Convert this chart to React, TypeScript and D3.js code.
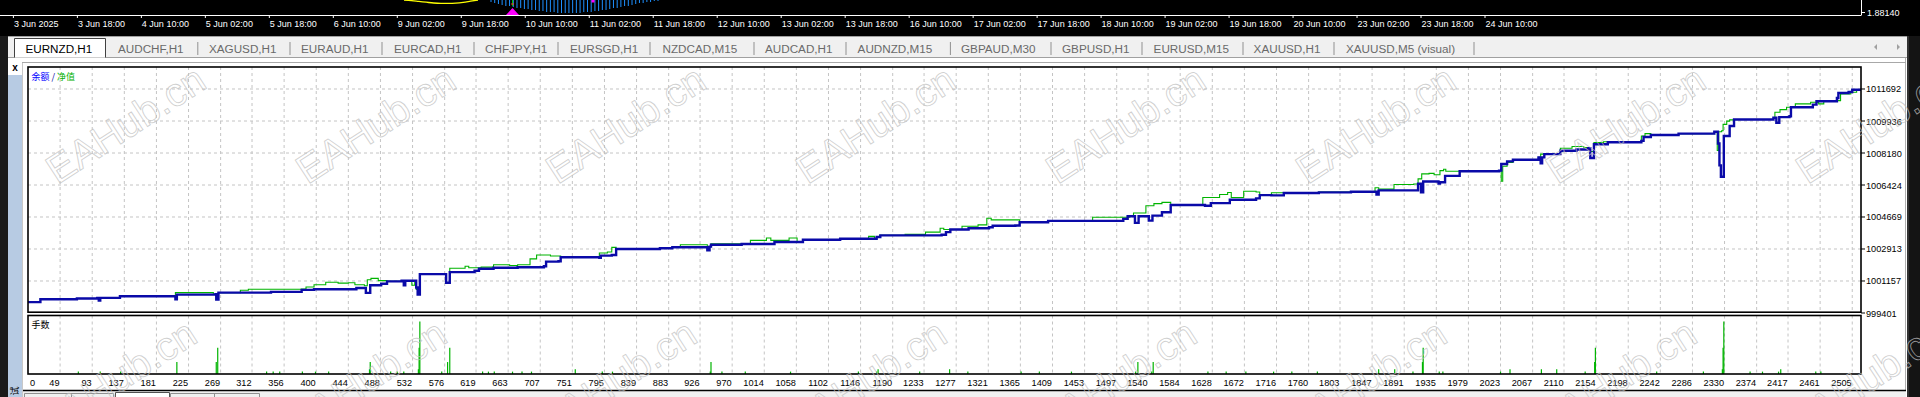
import React from 'react';
import * as d3 from 'd3';

const W = 1920;
const H = 397;

const dateLabels = [
  '3 Jun 2025', '3 Jun 18:00', '4 Jun 10:00', '5 Jun 02:00', '5 Jun 18:00', '6 Jun 10:00',
  '9 Jun 02:00', '9 Jun 18:00', '10 Jun 10:00', '11 Jun 02:00', '11 Jun 18:00', '12 Jun 10:00',
  '13 Jun 02:00', '13 Jun 18:00', '16 Jun 10:00', '17 Jun 02:00', '17 Jun 18:00', '18 Jun 10:00',
  '19 Jun 02:00', '19 Jun 18:00', '20 Jun 10:00', '23 Jun 02:00', '23 Jun 18:00', '24 Jun 10:00',
];

const tabLabels = [
  'EURNZD,H1', 'AUDCHF,H1', 'XAGUSD,H1', 'EURAUD,H1', 'EURCAD,H1', 'CHFJPY,H1', 'EURSGD,H1',
  'NZDCAD,M15', 'AUDCAD,H1', 'AUDNZD,M15', 'GBPAUD,M30', 'GBPUSD,H1', 'EURUSD,M15', 'XAUUSD,H1',
  'XAUUSD,M5 (visual)',
];

const yTickValues = [999401, 1001157, 1002913, 1004669, 1006424, 1008180, 1009936, 1011692];

const xTickLabels = [
  0, 49, 93, 137, 181, 225, 269, 312, 356, 400, 444, 488, 532, 576, 619, 663, 707, 751, 795, 839,
  883, 926, 970, 1014, 1058, 1102, 1146, 1190, 1233, 1277, 1321, 1365, 1409, 1453, 1497, 1540,
  1584, 1628, 1672, 1716, 1760, 1803, 1847, 1891, 1935, 1979, 2023, 2067, 2110, 2154, 2198, 2242,
  2286, 2330, 2374, 2417, 2461, 2505,
];

// [trade #, balance]
const balance: [number, number][] = [
  [5, 1000000], [22, 1000158], [72, 1000197], [100, 1000230], [102, 1000087], [104, 1000230],
  [131, 1000323], [207, 1000158], [209, 1000411], [262, 1000433], [263, 1000142], [266, 1000520],
  [338, 1000559], [380, 1000669], [397, 1000702], [455, 1000773], [468, 1000504], [474, 1000921],
  [489, 1001009], [497, 1001135], [517, 1001173], [520, 1000921], [522, 1001173], [537, 1000800],
  [539, 1000411], [542, 1001535], [578, 1001064], [583, 1001645], [617, 1001717], [623, 1001826],
  [643, 1001881], [676, 1001914], [712, 1001969], [715, 1002221], [732, 1002243], [735, 1002457],
  [788, 1002424], [790, 1002550], [805, 1002583], [811, 1002913], [871, 1002951], [888, 1003006],
  [936, 1002841], [939, 1003044], [941, 1003149], [983, 1003187], [1028, 1003297], [1067, 1003423],
  [1118, 1003478], [1168, 1003571], [1173, 1003659], [1257, 1003692], [1263, 1003840],
  [1269, 1003983], [1294, 1004055], [1322, 1004110], [1327, 1004186], [1358, 1004203],
  [1364, 1004384], [1403, 1004454], [1506, 1004564], [1512, 1004707], [1522, 1004345],
  [1527, 1004707], [1541, 1004471], [1546, 1004745], [1559, 1004926], [1571, 1005327],
  [1618, 1005289], [1626, 1005431], [1652, 1005612], [1688, 1005689], [1693, 1005870],
  [1709, 1005853], [1726, 1005985], [1774, 1006018], [1818, 1006056], [1853, 1005900],
  [1856, 1006128], [1910, 1006490], [1914, 1006018], [1917, 1006616], [1938, 1006500],
  [1940, 1006578], [1947, 1006924], [1967, 1007176], [2021, 1007214], [2024, 1007577],
  [2032, 1007720], [2040, 1007813], [2075, 1007939], [2078, 1007620], [2080, 1007939],
  [2083, 1008120], [2105, 1008301], [2127, 1008372], [2143, 1008444], [2146, 1007906],
  [2151, 1008663], [2170, 1008773], [2216, 1008844], [2219, 1009058], [2229, 1009168],
  [2267, 1009245], [2316, 1009349], [2321, 1008700], [2323, 1007500], [2325, 1006880],
  [2329, 1009113], [2337, 1009662], [2343, 1010018], [2397, 1010111], [2401, 1009837],
  [2405, 1010150], [2419, 1010200], [2421, 1010694], [2451, 1010836], [2456, 1011017],
  [2484, 1011198], [2486, 1011473], [2500, 1011528], [2505, 1011649], [2517, 1011692],
];

// [trade #, equity]
const equity: [number, number][] = [
  [5, 1000000], [22, 1000158], [72, 1000197], [100, 1000230], [102, 1000087], [104, 1000230],
  [131, 1000323], [207, 1000520], [257, 1000520], [259, 1000433], [262, 1000433], [263, 1000142],
  [266, 1000520], [296, 1000647], [307, 1000702], [338, 1000702], [380, 1000720], [386, 1000830],
  [397, 1000953], [413, 1001090], [430, 1001040], [444, 1001060], [453, 1000953], [466, 1000900],
  [470, 1001227], [475, 1001300], [485, 1001180], [497, 1001135], [517, 1001173], [520, 1000921],
  [522, 1001173], [531, 1000921], [535, 1001100], [537, 1000700], [539, 1000500], [542, 1001535],
  [578, 1001064], [583, 1001860], [604, 1001969], [609, 1001880], [626, 1001920], [643, 1002046],
  [665, 1002010], [676, 1002046], [693, 1002370], [702, 1002583], [721, 1002530], [735, 1002457],
  [788, 1002693], [799, 1002750], [805, 1003000], [811, 1002913], [871, 1002951], [888, 1003006],
  [899, 1003149], [933, 1003149], [936, 1002841], [939, 1003044], [941, 1003204], [983, 1003204],
  [995, 1003385], [1017, 1003516], [1023, 1003385], [1048, 1003516], [1059, 1003297],
  [1067, 1003423], [1118, 1003478], [1157, 1003604], [1165, 1003478], [1168, 1003571],
  [1173, 1003659], [1207, 1003714], [1235, 1003840], [1255, 1004055], [1260, 1003983],
  [1285, 1004164], [1307, 1004235], [1319, 1004597], [1325, 1004510], [1358, 1004510],
  [1364, 1004384], [1403, 1004454], [1464, 1004652], [1509, 1004652], [1515, 1004707],
  [1520, 1004888], [1537, 1005289], [1548, 1005400], [1559, 1005470], [1571, 1005327],
  [1615, 1005738], [1638, 1005903], [1649, 1006013], [1654, 1005738], [1671, 1006084],
  [1688, 1006040], [1693, 1005870], [1709, 1006000], [1774, 1006040], [1818, 1006070],
  [1851, 1006271], [1856, 1006200], [1877, 1006452], [1904, 1006480], [1910, 1006759],
  [1915, 1007034], [1925, 1007060], [1932, 1006990], [1940, 1007214], [1945, 1007290],
  [1948, 1007176], [2021, 1007214], [2024, 1006633], [2026, 1007450], [2032, 1007665],
  [2040, 1007813], [2075, 1007939], [2078, 1008120], [2083, 1008150], [2105, 1008444],
  [2121, 1008537], [2137, 1008480], [2145, 1008262], [2151, 1008751], [2164, 1008800],
  [2170, 1008773], [2216, 1009113], [2221, 1009245], [2229, 1009168], [2267, 1009245],
  [2316, 1009349], [2320, 1008315], [2322, 1009349], [2326, 1009400], [2328, 1009750],
  [2333, 1009930], [2337, 1010000], [2343, 1010018], [2397, 1010111], [2399, 1010420],
  [2406, 1010562], [2415, 1010694], [2427, 1010875], [2448, 1010967], [2459, 1010875],
  [2466, 1011056], [2489, 1011418], [2503, 1011510], [2511, 1011660], [2517, 1011700],
];

// [trade #, lots]
const lots: [number, number][] = [
  [74, 0.01], [104, 0.01], [132, 0.01], [209, 0.05], [263, 0.05], [265, 0.11], [332, 0.01],
  [341, 0.01], [350, 0.01], [381, 0.01], [399, 0.01], [417, 0.01], [473, 0.02], [474, 0.05],
  [502, 0.01], [511, 0.01], [520, 0.01], [540, 0.02], [541, 0.11], [542, 0.22], [572, 0.01],
  [580, 0.05], [583, 0.11], [628, 0.01], [636, 0.01], [644, 0.01], [669, 0.01], [682, 0.01],
  [695, 0.01], [755, 0.02], [792, 0.01], [806, 0.01], [940, 0.01], [941, 0.05], [956, 0.01],
  [988, 0.01], [1050, 0.01], [1143, 0.01], [1168, 0.01], [1170, 0.02], [1227, 0.01],
  [1268, 0.02], [1293, 0.01], [1366, 0.01], [1391, 0.01], [1435, 0.01], [1523, 0.01],
  [1526, 0.05], [1545, 0.01], [1547, 0.05], [1622, 0.01], [1647, 0.01], [1674, 0.01],
  [1712, 0.01], [1737, 0.01], [1772, 0.01], [1856, 0.02], [1878, 0.02], [1903, 0.01],
  [1916, 0.05], [1917, 0.11], [1939, 0.01], [1944, 0.01], [2023, 0.01], [2036, 0.02],
  [2079, 0.02], [2100, 0.02], [2139, 0.01], [2152, 0.05], [2153, 0.11], [2237, 0.01],
  [2301, 0.01], [2327, 0.02], [2328, 0.11], [2329, 0.22], [2365, 0.01], [2382, 0.01],
  [2404, 0.01], [2407, 0.02], [2455, 0.01], [2462, 0.01],
];

// top price-chart fragments (indicator)
const yellowCurve: [number, number][] = [
  [0, 0.0], [1, 0.6], [2, 1.4], [3, 2.2], [4, 3.0], [5, 3.3], [6, 3.3], [7, 3.1], [8, 2.4], [9, 1.2], [10, 0.0],
];
const histDepth = [
  2, 3, 4, 5, 6, 6, 7, 8, 8, 9, 9, 10, 10, 11, 11, 12, 12, 12, 13, 13, 13, 13, 13, 13, 13, 12, 12,
  12, 11, 11, 10, 10, 9, 8, 8, 7, 6, 6, 5, 4, 3, 3, 2, 2, 1, 1,
];

const FONT = "'Liberation Sans', Arial, sans-serif";
const CJK = "'Noto Sans CJK SC', sans-serif";

export default function App() {
  const L = 28, R = 1861, T = 67, B = 313, VT = 315.5, VB = 374;
  const x = d3.scaleLinear().domain([5, 2517]).range([L, R]);
  const y = d3.scaleLinear().domain([999401, 1012899]).range([B, T]);
  const yv = d3.scaleLinear().domain([0, 0.245]).range([VB, VT]);
  const tx = d3.scaleLinear().domain([0, dateLabels.length - 1]).range([13.4, 1485]);

  const stepLine = d3
    .line<[number, number]>()
    .x((d) => x(d[0]))
    .y((d) => y(d[1]))
    .curve(d3.curveStepAfter);

  const yc = d3.scaleLinear().domain([0, 10]).range([404, 478]);
  const yellowPath = d3
    .line<[number, number]>()
    .x((d) => yc(d[0]))
    .y((d) => d[1])
    .curve(d3.curveMonotoneX)(yellowCurve);
  const hx = d3.scaleLinear().domain([0, histDepth.length - 1]).range([491, 658]);

  const gridTicks = xTickLabels.slice(1);

  // tab layout (UI chrome)
  const tabTextX = [25.4, 118, 209, 301, 394, 485, 570, 662.5, 765, 857.6, 961, 1062, 1153.6, 1253.6, 1346];
  const tabSepX = [197.8, 290, 382, 474, 558, 650, 754, 846, 950.4, 1051, 1142, 1243, 1334, 1474];

  const wmRow1 = d3.range(8).map((i) => [126 + 250 * i, 125]);
  const wmRow2 = d3.range(8).map((i) => [117 + 250 * i, 379]);

  return (
    <svg
      width={W}
      height={H}
      viewBox={`0 0 ${W} ${H}`}
      style={{ position: 'fixed', left: 0, top: 0, background: '#ffffff' }}
    >
      <defs>
        <clipPath id="plotClip">
          <rect x={L} y={T} width={R - L} height={B - T} />
        </clipPath>
      </defs>

      {/* top black price chart strip */}
      <rect x={0} y={0} width={W} height={36} fill="#000" />
      <path d={yellowPath || ''} fill="none" stroke="#ffff00" strokeWidth={1.3} />
      {histDepth.map((d, i) => (
        <line key={'h' + i} x1={hx(i)} x2={hx(i)} y1={0} y2={d} stroke="#1e90ff" strokeWidth={1} />
      ))}
      <path d="M512.5,8 L519,15 L506,15 Z" fill="#ff00ff" />
      <line x1={512.5} x2={512.5} y1={0} y2={6} stroke="#00c000" strokeWidth={1} />
      <line x1={511} x2={514} y1={4} y2={4} stroke="#ff3030" strokeWidth={1} />
      <rect x={591.5} y={0} width={3} height={2.5} fill="#ff00ff" />
      <line x1={0} x2={R} y1={15.5} y2={15.5} stroke="#fff" strokeWidth={1} />
      <line x1={R + 0.5} x2={R + 0.5} y1={0} y2={15.5} stroke="#fff" strokeWidth={1} />
      <line x1={R} x2={R + 4} y1={12.5} y2={12.5} stroke="#fff" strokeWidth={1} />
      <text x={R + 6} y={15.5} fill="#fff" fontFamily={FONT} fontSize={9}>1.88140</text>
      {dateLabels.map((d, i) => (
        <g key={'d' + i}>
          <line x1={tx(i)} x2={tx(i)} y1={15.5} y2={18} stroke="#fff" strokeWidth={1} />
          <text x={tx(i) + 0.5} y={27} fill="#fff" fontFamily={FONT} fontSize={9}>{d}</text>
        </g>
      ))}

      {/* tab strip */}
      <rect x={0} y={36} width={W} height={22} fill="#f0f0f0" />
      <line x1={0} x2={W} y1={36.5} y2={36.5} stroke="#a0a0a0" />
      <line x1={0} x2={W} y1={57.5} y2={57.5} stroke="#a0a0a0" />
      <path d="M14.5,57.5 L14.5,38.5 L105.5,38.5 L105.5,57.5" fill="#ffffff" stroke="#404040" strokeWidth={1} />
      {tabLabels.map((t, i) => (
        <text
          key={'t' + i}
          x={tabTextX[i]}
          y={52.5}
          fill={i === 0 ? '#000' : '#6a6a6a'}
          fontFamily={FONT}
          fontSize={11.7}
        >
          {t}
        </text>
      ))}
      {tabSepX.map((s, i) => (
        <line key={'s' + i} x1={s} x2={s} y1={42} y2={55} stroke="#909090" strokeWidth={1} />
      ))}
      <path d="M1877,44 L1877,50 L1874,47 Z" fill="#a0a0a0" />
      <path d="M1897,44 L1897,50 L1900,47 Z" fill="#a0a0a0" />

      {/* left side chrome */}
      <rect x={0} y={36} width={8} height={H - 36} fill="#1a1a1a" />
      <rect x={8} y={75} width={14} height={H - 75} fill="#b7cbe3" />
      <line x1={22.5} x2={22.5} y1={62} y2={H} stroke="#c8c8c8" />
      <text x={15} y={70.5} textAnchor="middle" fontFamily={FONT} fontSize={10} fontWeight="bold" fill="#000">x</text>
      <text x={15} y={394} textAnchor="middle" fontFamily={CJK} fontSize={9} fill="#000" transform="rotate(-90 15 391)">试</text>

      {/* right side chrome */}
      <line x1={1905.5} x2={1905.5} y1={58} y2={H} stroke="#b0b0b0" />
      <rect x={1907} y={36} width={13} height={H - 36} fill="#141414" />
      <line x1={1908} x2={1908} y1={36} y2={H} stroke="#505050" />

      <line x1={22} x2={1906} y1={62.5} y2={62.5} stroke="#a8a8a8" />

      {/* main plot grid */}
      {yTickValues.slice(1).map((v, i) => (
        <line key={'gy' + i} x1={L} x2={R} y1={y(v)} y2={y(v)} stroke="#c4c4c4" strokeDasharray="3,3" />
      ))}
      {gridTicks.map((v, i) => (
        <g key={'gx' + i}>
          <line x1={x(v)} x2={x(v)} y1={T} y2={B} stroke="#c4c4c4" strokeDasharray="3,3" />
          <line x1={x(v)} x2={x(v)} y1={VT} y2={VB} stroke="#c4c4c4" strokeDasharray="3,3" />
        </g>
      ))}

      {/* series */}
      <g clipPath="url(#plotClip)">
        <path d={stepLine(equity) || ''} fill="none" stroke="#00b400" strokeWidth={1.1} />
        <path d={stepLine(balance) || ''} fill="none" stroke="#0a0aa8" strokeWidth={2.4} />
      </g>

      {/* volume bars */}
      {lots.map((d, i) => (
        <line
          key={'v' + i}
          x1={x(d[0])}
          x2={x(d[0])}
          y1={yv(0)}
          y2={yv(d[1])}
          stroke="#00b400"
          strokeWidth={1.2}
        />
      ))}

      {/* frames */}
      <rect x={L} y={T} width={R - L} height={B - 0.8 - T} fill="none" stroke="#000" strokeWidth={1.6} />
      <rect x={L} y={VT} width={R - L} height={VB - VT} fill="none" stroke="#000" strokeWidth={1.6} />

      {/* y axis labels */}
      {yTickValues.map((v, i) => (
        <g key={'yl' + i}>
          <line x1={R} x2={R + 4} y1={y(v)} y2={y(v)} stroke="#000" />
          <text x={R + 5} y={y(v) + 3.5} fontFamily={FONT} fontSize={9.2} fill="#000">{v}</text>
        </g>
      ))}

      {/* x axis labels */}
      {xTickLabels.map((v, i) => (
        <text
          key={'xl' + i}
          x={i === 0 ? L + 2 : x(v) - 0.5}
          y={385.5}
          textAnchor={i === 0 ? 'start' : 'end'}
          fontFamily={FONT}
          fontSize={9.2}
          fill="#000"
        >
          {v}
        </text>
      ))}

      {/* legends */}
      <text x={31.5} y={80} fontFamily={CJK} fontSize={9}>
        <tspan fill="#0000ff">余额</tspan>
        <tspan fill="#0000a0"> / </tspan>
        <tspan fill="#00b000">净值</tspan>
      </text>
      <text x={31.5} y={328} fontFamily={CJK} fontSize={9} fill="#000">手数</text>

      {/* bottom chrome */}
      <rect x={23} y={391} width={1883} height={6} fill="#f0f0f0" />
      <line x1={23} x2={1906} y1={390.5} y2={390.5} stroke="#000" strokeWidth={1.5} />
      <path d="M24.5,397 L24.5,393.5 L113.5,393.5 L113.5,397" fill="none" stroke="#909090" />
      <line x1={71.5} x2={71.5} y1={394} y2={397} stroke="#909090" />
      <path d="M115.5,397 L115.5,392.5 L169.5,392.5 L169.5,397" fill="#fff" stroke="#505050" />
      <path d="M170.5,397 L170.5,393.5 L259.5,393.5 L259.5,397" fill="none" stroke="#909090" />
      <line x1={214.5} x2={214.5} y1={394} y2={397} stroke="#909090" />

      {/* watermark overlay */}
      {[...wmRow1, ...wmRow2].map(([cx, cy], i) => (
        <text
          key={'wm' + i}
          x={cx}
          y={cy + 13}
          textAnchor="middle"
          fontFamily={FONT}
          fontSize={40}
          fill="none"
          stroke="#c0c0c0"
          strokeOpacity={0.75}
          strokeWidth={0.9}
          transform={`rotate(-33 ${cx} ${cy})`}
        >
          EAHub.cn
        </text>
      ))}
    </svg>
  );
}
